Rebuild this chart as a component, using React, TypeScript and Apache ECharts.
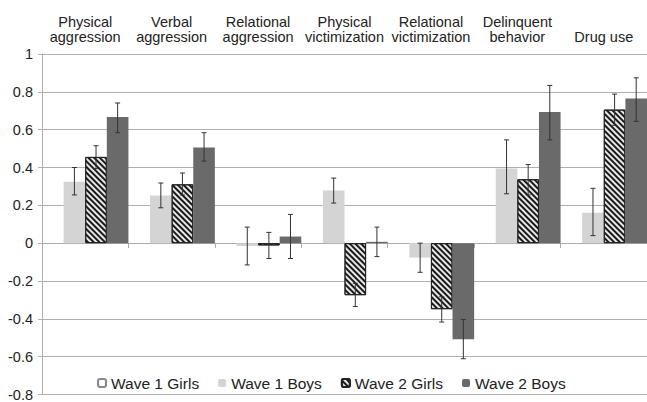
import React, { useEffect, useRef } from 'react';
import * as echarts from 'echarts';

const categories = [
  'Physical\naggression',
  'Verbal\naggression',
  'Relational\naggression',
  'Physical\nvictimization',
  'Relational\nvictimization',
  'Delinquent\nbehavior',
  'Drug use',
];
const seriesNames = ['Wave 1 Girls', 'Wave 1 Boys', 'Wave 2 Girls', 'Wave 2 Boys'];

const wave1Girls = [null, null, null, null, null, null, null];
const wave1Boys = [0.325, 0.252, -0.015, 0.278, -0.076, 0.395, 0.161];
const wave2Girls = [0.456, 0.311, -0.012, -0.275, -0.349, 0.338, 0.706];
const wave2Boys = [0.667, 0.506, 0.035, 0.007, -0.508, 0.693, 0.765];

const wave1BoysLow = [0.255, 0.187, -0.115, 0.212, -0.154, 0.261, 0.04];
const wave1BoysHigh = [0.4, 0.318, 0.085, 0.344, 0.0, 0.546, 0.29];
const wave2GirlsLow = [0.394, 0.255, -0.081, -0.335, -0.417, 0.255, 0.623];
const wave2GirlsHigh = [0.515, 0.371, 0.057, -0.212, -0.283, 0.416, 0.788];
const wave2BoysLow = [0.584, 0.434, -0.081, -0.071, -0.611, 0.546, 0.644];
const wave2BoysHigh = [0.741, 0.584, 0.152, 0.085, -0.404, 0.834, 0.874];

const yMin = -0.8;
const yMax = 1;
const yStep = 0.2;

export default function App() {
  const ref = useRef<HTMLDivElement>(null);
  useEffect(() => {
    document.body.style.margin = '0';
    if (!ref.current) return;
    const chart = echarts.init(ref.current, null, { renderer: 'svg' });

    const errData: number[][] = [];
    const addErr = (si: number, lo: number[], hi: number[]) => {
      lo.forEach((l, ci) => errData.push([ci, si, l, hi[ci]]));
    };
    addErr(1, wave1BoysLow, wave1BoysHigh);
    addErr(2, wave2GirlsLow, wave2GirlsHigh);
    addErr(3, wave2BoysLow, wave2BoysHigh);

    const font = '"Liberation Sans", Arial, sans-serif';

    chart.setOption({
      animation: false,
      textStyle: { fontFamily: font },
      grid: { left: 42, right: -4, top: 54, bottom: 1, containLabel: false },
      legend: {
        data: seriesNames,
        left: 95,
        top: 373,
        itemWidth: 8,
        itemHeight: 8,
        itemGap: 19,
        textStyle: { fontSize: 15.5, color: '#222', fontFamily: font },
        backgroundColor: '#fff',
        padding: [2, 2],
      },
      xAxis: [
        {
          type: 'category',
          data: categories,
          position: 'bottom',
          axisLine: { onZero: true, lineStyle: { color: '#aaa', width: 1 } },
          axisTick: { show: true, length: 5, lineStyle: { color: '#aaa' } },
          axisLabel: { show: false },
          splitLine: { show: false },
        },
        {
          type: 'category',
          data: categories,
          position: 'top',
          axisLine: { show: false },
          axisTick: { show: false },
          axisLabel: {
            show: true,
            interval: 0,
            fontSize: 14.5,
            lineHeight: 15,
            color: '#222',
            margin: 10,
            fontFamily: font,
          },
        },
      ],
      yAxis: {
        type: 'value',
        min: yMin,
        max: yMax,
        interval: yStep,
        axisLine: { show: true, lineStyle: { color: '#b0b0b0' } },
        axisTick: { show: true, length: 4, lineStyle: { color: '#b0b0b0' } },
        axisLabel: { fontSize: 14.5, color: '#222', margin: 9, fontFamily: font },
        splitLine: { lineStyle: { color: '#b0b0b0', width: 1 } },
      },
      series: [
        {
          name: seriesNames[0],
          type: 'bar',
          data: wave1Girls,
          barGap: '0%',
          barCategoryGap: '0%',
          itemStyle: { color: '#fff', borderColor: '#888', borderWidth: 1 },
        },
        {
          name: seriesNames[1],
          type: 'bar',
          data: wave1Boys,
          barGap: '0%',
          barCategoryGap: '0%',
          itemStyle: { color: '#d4d4d4' },
        },
        {
          name: seriesNames[2],
          type: 'bar',
          data: wave2Girls,
          barGap: '0%',
          barCategoryGap: '0%',
          itemStyle: {
            color: '#e8e8e8',
            borderColor: '#222',
            borderWidth: 1,
            decal: {
              symbol: 'rect',
              symbolSize: 1,
              dashArrayX: [1, 0],
              dashArrayY: [1.4, 1.6],
              rotation: Math.PI / 4,
              color: '#1a1a1a',
            },
          },
        },
        {
          name: seriesNames[3],
          type: 'bar',
          data: wave2Boys,
          barGap: '0%',
          barCategoryGap: '0%',
          itemStyle: { color: '#6a6a6a' },
        },
        {
          name: 'errors',
          type: 'custom',
          data: errData,
          z: 10,
          encode: { x: 0, y: [2, 3] },
          renderItem: (params: any, api: any) => {
            const ci = api.value(0);
            const si = api.value(1);
            const lo = api.coord([ci, api.value(2)]);
            const hi = api.coord([ci, api.value(3)]);
            const bw = api.size([1, 0])[0];
            const x = lo[0] + ((si - 1.5) * bw) / 4;
            const cap = 2.5;
            const st = { stroke: '#333', lineWidth: 1 };
            return {
              type: 'group',
              children: [
                { type: 'line', shape: { x1: x, y1: hi[1], x2: x, y2: lo[1] }, style: st },
                { type: 'line', shape: { x1: x - cap, y1: hi[1], x2: x + cap, y2: hi[1] }, style: st },
                { type: 'line', shape: { x1: x - cap, y1: lo[1], x2: x + cap, y2: lo[1] }, style: st },
              ],
            };
          },
        },
      ],
    });
    return () => chart.dispose();
  }, []);
  return <div ref={ref} style={{ width: 647, height: 402 }} />;
}
